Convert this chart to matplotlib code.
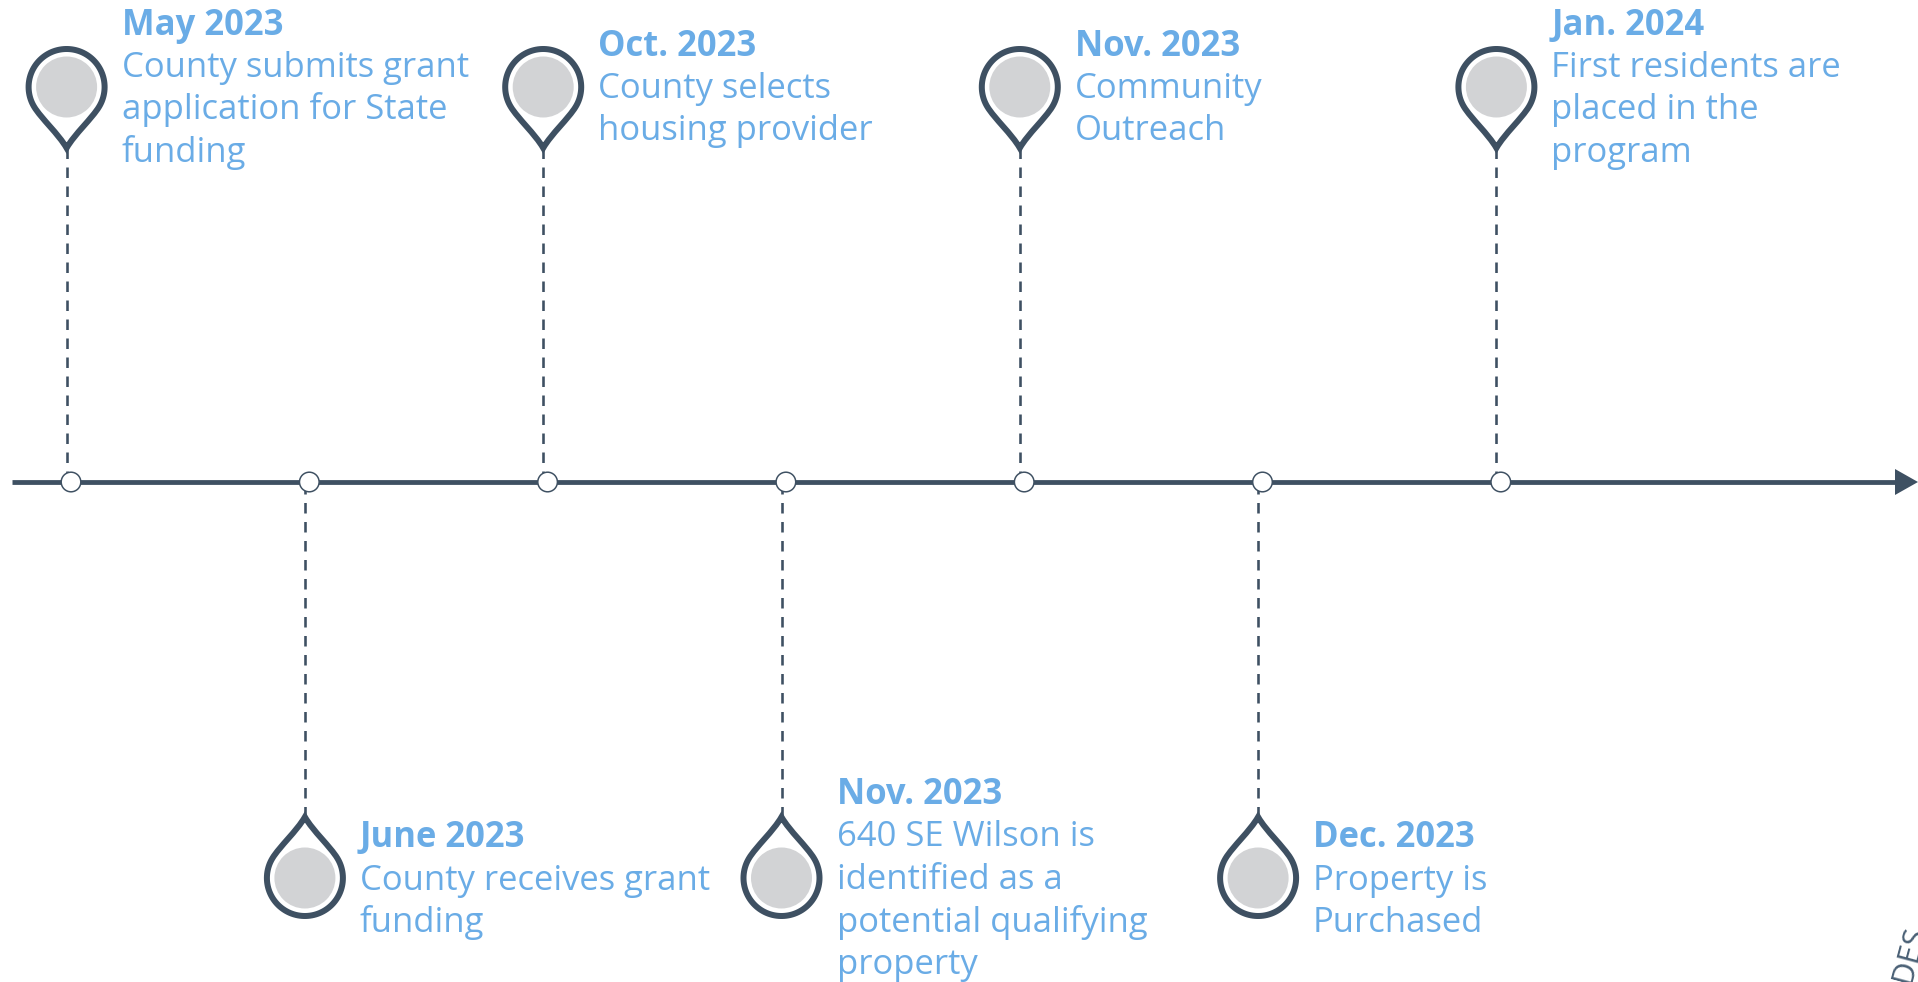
import numpy as np
import matplotlib
matplotlib.use("Agg")
import matplotlib.pyplot as plt
from matplotlib.path import Path
from matplotlib.patches import PathPatch, Circle, Polygon

dates = ["May 2023", "June 2023", "Oct. 2023", "Nov. 2023", "Nov. 2023", "Dec. 2023", "Jan. 2024"]
descriptions = [
    "County submits grant\napplication for State\nfunding",
    "County receives grant\nfunding",
    "County selects\nhousing provider",
    "640 SE Wilson is\nidentified as a\npotential qualifying\nproperty",
    "Community\nOutreach",
    "Property is\nPurchased",
    "First residents are\nplaced in the\nprogram",
]
sides = ["top", "bottom", "top", "bottom", "top", "bottom", "top"]

W, H = 1918, 982
DARK = "#3e5062"
BLUE = "#6aace6"
GREY = "#d2d3d5"
FONT = "Open Sans"
px = 72 / 100
FS = 34.6 * px

fig = plt.figure(figsize=(W / 100, H / 100), dpi=100, facecolor="white")
ax = fig.add_axes([0, 0, 1, 1])
ax.set_xlim(0, W)
ax.set_ylim(H, 0)
ax.axis("off")

AXIS_Y = 482
X0, STEP = 71, 238.3
TIP = 61


def pin_path(cx, cy, direction):
    """Teardrop outline; direction +1 has the tip below the circle, -1 above."""
    r = 38
    a0 = np.radians(31)
    # arc around the far side of the circle, from the right shoulder to the left one
    sweep = -(np.pi * 2 - (np.pi - 2 * a0))
    t = a0 + np.linspace(0, sweep, 80)
    xs = cx + r * np.cos(t)
    ys = cy + direction * r * np.sin(t)
    verts = list(zip(xs, ys))
    codes = [Path.MOVETO] + [Path.LINETO] * 79
    lx, ly = verts[-1]
    rx, ry = verts[0]
    ux, uy = np.sin(a0), np.cos(a0)
    # left shoulder down to the tip
    verts += [(lx + 14 * ux, ly + direction * 14 * uy),
              (cx - 8, cy + direction * (TIP - 14)),
              (cx, cy + direction * TIP)]
    codes += [Path.CURVE4] * 3
    # tip back to the right shoulder
    verts += [(cx + 8, cy + direction * (TIP - 14)),
              (rx - 14 * ux, ry + direction * 14 * uy),
              (rx, ry)]
    codes += [Path.CURVE4] * 3
    verts.append((rx, ry))
    codes.append(Path.CLOSEPOLY)
    return Path(verts, codes)


TEXT_OFFSET = 55
LINE = 42.6

# main axis
ax.plot([12, 1897], [AXIS_Y, AXIS_Y], color=DARK, lw=4.8 * px, solid_capstyle="butt", zorder=2)
ax.add_patch(Polygon([(1895, AXIS_Y - 13), (1918, AXIS_Y), (1895, AXIS_Y + 13)], closed=True,
                     facecolor=DARK, edgecolor="none", zorder=2))

for i, (date, desc, side) in enumerate(zip(dates, descriptions, sides)):
    x = X0 + STEP * i
    pin_x = x - 4.4
    d = 1 if side == "top" else -1
    cy = 87 if side == "top" else 878
    tip_y = cy + d * TIP
    ax.plot([pin_x, pin_x], [tip_y, AXIS_Y], color=DARK, lw=2.6 * px,
            linestyle=(0, (10.5 / 2.6, 8.5 / 2.6)), dash_capstyle="butt", zorder=1)
    ax.add_patch(Circle((x, AXIS_Y), 9.8, facecolor="white", edgecolor=DARK, lw=1.5 * px, zorder=3))
    ax.add_patch(PathPatch(pin_path(pin_x, cy, d), facecolor="white", edgecolor=DARK,
                           lw=6 * px, joinstyle="miter", zorder=4))
    ax.add_patch(Circle((pin_x, cy), 30.5, facecolor=GREY, edgecolor="none", zorder=5))

    lines = desc.split("\n")
    if side == "top":
        date_y = 35 if len(lines) == 3 else 56
        first = date_y + 41.5
    else:
        date_y = 804 if len(lines) == 4 else 847
        first = date_y + 42.5
    tx = pin_x + TEXT_OFFSET
    ax.text(tx, date_y, date, color=BLUE, fontsize=FS, fontweight="bold", family=FONT,
            ha="left", va="baseline", zorder=6)
    for j, line in enumerate(lines):
        ax.text(tx, first + LINE * j, line, color=BLUE, fontsize=FS, family=FONT,
                ha="left", va="baseline", zorder=6)

# clipped fragment of a rotated label at the lower right corner
ax.text(1910, 984, "DES", color="#4a6075", fontsize=31 * px, family=FONT, rotation=75,
        rotation_mode="anchor", ha="left", va="baseline", zorder=6, clip_on=True)

fig.savefig("out.png", dpi=100, facecolor="white")
